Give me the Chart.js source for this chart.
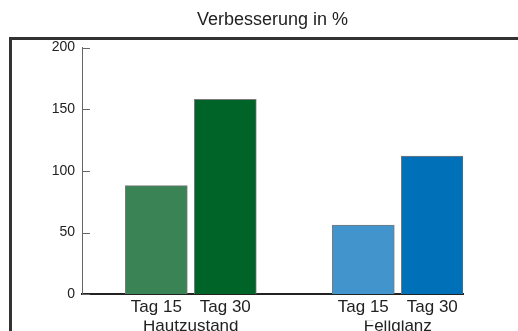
<!DOCTYPE html>
<html>
<head>
<meta charset="utf-8">
<script src="https://cdn.jsdelivr.net/npm/chart.js@4/dist/chart.umd.min.js"></script>
<style>
  html, body { margin: 0; padding: 0; overflow: hidden; background: #fff; }
  #wrap { position: relative; width: 518px; height: 331px; overflow: hidden; }
  #frame { position: absolute; left: 9px; top: 37px; width: 600px; height: 400px; border: 3px solid #333; }
  #chart { position: absolute; left: 0; top: 0; }
</style>
</head>
<body>
<div id="wrap">
  <div id="frame"></div>
  <canvas id="chart" width="518" height="350"></canvas>
</div>
<script>
const GROUPS = ['Hautzustand', 'Fellglanz'];
const DAYS = ['Tag 15', 'Tag 30'];
const HAUTZUSTAND = [88, 158];
const FELLGLANZ = [56, 112];
const Y_MIN = 0;
const Y_MAX = 200;
const Y_STEP = 50;

const SERIES = [HAUTZUSTAND, FELLGLANZ];
const COLORS = [
	['#3a8354', '#006328'],
	['#4294cc', '#0070b8'],
];
const FONT = "'Liberation Sans', Arial, sans-serif";

// every group takes three slots on the x scale: two bars and a gap
const points = [];
const barColors = [];
const dayTicks = [];
const groupTicks = [];
GROUPS.forEach((group, gi) => {
	DAYS.forEach((day, di) => {
		const x = gi * 3 + di + 1;
		points.push({ x, y: SERIES[gi][di] });
		barColors.push(COLORS[gi][di]);
		dayTicks.push({ value: x, label: day });
	});
	groupTicks.push({ value: gi * 3 + 1.5, label: group });
});

function labelFor(list, value) {
	const t = list.find((t) => Math.abs(t.value - value) < 0.01);
	return t ? t.label : '';
}

const X_MIN = -0.077;
const X_MAX = 5.445;

// short tick marks on the inner side of the y axis
const innerTicks = {
	id: 'innerTicks',
	afterDraw(chart) {
		const { ctx, chartArea } = chart;
		const y = chart.scales.y;
		ctx.save();
		ctx.strokeStyle = '#666';
		ctx.lineWidth = 1;
		ctx.beginPath();
		y.ticks.forEach((t) => {
			const py = Math.round(y.getPixelForValue(t.value)) + 0.5;
			ctx.moveTo(chartArea.left, py);
			ctx.lineTo(chartArea.left + 8, py);
		});
		ctx.stroke();
		ctx.restore();
	},
};

new Chart(document.getElementById('chart'), {
	type: 'bar',
	data: {
		datasets: [
			{
				data: points,
				backgroundColor: barColors,
				borderColor: '#7a7a7a',
				borderWidth: 1,
				barThickness: 62,
			},
		],
	},
	plugins: [innerTicks],
	options: {
		responsive: false,
		animation: false,
		devicePixelRatio: 1,
		layout: {
			padding: { left: 22, right: 55, top: 0, bottom: 17 },
		},
		plugins: {
			legend: { display: false },
			tooltip: { enabled: false },
			title: {
				display: true,
				text: 'Verbesserung in %',
				fullSize: false,
				color: '#222',
				font: { family: FONT, size: 18, weight: 'normal', lineHeight: 1.2 },
				padding: { top: 9, bottom: 17 },
			},
		},
		scales: {
			x: {
				type: 'linear',
				position: 'bottom',
				weight: 0,
				z: 1,
				min: X_MIN,
				max: X_MAX,
				offset: false,
				grid: { display: false, drawTicks: false, offset: false },
				border: { display: true, color: '#222', width: 2 },
				afterBuildTicks: (scale) => {
					scale.ticks = dayTicks.map((t) => ({ value: t.value }));
				},
				ticks: {
					autoSkip: false,
					maxRotation: 0,
					padding: 3,
					color: '#222',
					font: { family: FONT, size: 17 },
					callback: (value) => labelFor(dayTicks, value),
				},
			},
			x2: {
				type: 'linear',
				axis: 'x',
				position: 'bottom',
				weight: 1,
				min: X_MIN,
				max: X_MAX,
				offset: false,
				grid: { display: false, drawTicks: false },
				border: { display: false },
				afterBuildTicks: (scale) => {
					scale.ticks = groupTicks.map((t) => ({ value: t.value }));
				},
				ticks: {
					autoSkip: false,
					maxRotation: 0,
					padding: -4,
					color: '#222',
					font: { family: FONT, size: 17 },
					callback: (value) => labelFor(groupTicks, value),
				},
			},
			y: {
				min: Y_MIN,
				max: Y_MAX,
				afterFit: (scale) => {
					scale.width = 60;
				},
				grid: { display: false, drawTicks: false },
				border: { display: true, color: '#666', width: 1 },
				ticks: {
					stepSize: Y_STEP,
					padding: 7,
					color: '#222',
					font: { family: FONT, size: 14 },
				},
			},
		},
	},
});
</script>
</body>
</html>
